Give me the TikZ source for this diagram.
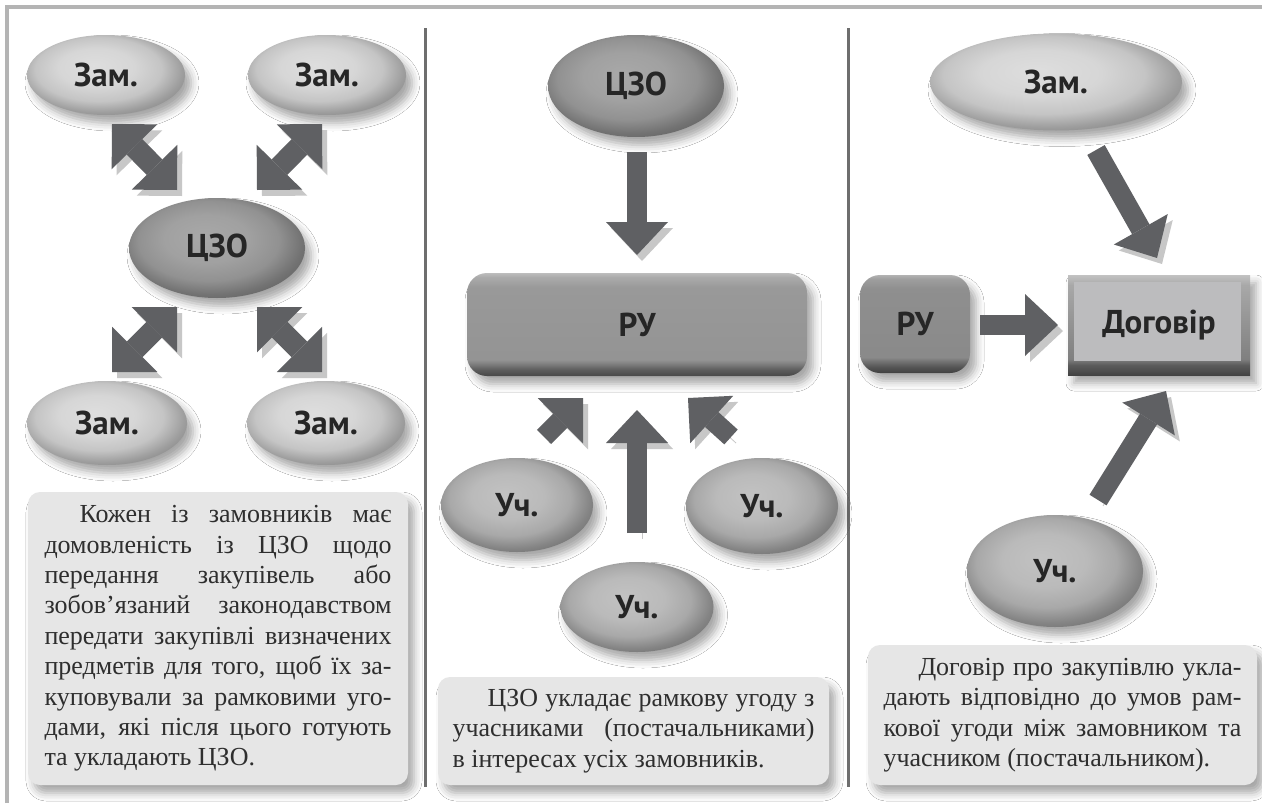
\documentclass[tikz,border=0pt]{standalone}
\usepackage{fontspec}
\setmainfont{Liberation Serif}
\newfontfamily\lblfont{PT Sans}
\usetikzlibrary{shapes.geometric,arrows.meta,shadows.blur}
\definecolor{arrowc}{HTML}{5F6063}
\definecolor{framec}{HTML}{B4B4B4}
\definecolor{divc}{HTML}{6E6E6E}
\definecolor{boxc}{HTML}{E6E6E6}
\definecolor{bodytext}{HTML}{2E2E2E}
\definecolor{labeltext}{HTML}{262626}
\definecolor{dogc}{HTML}{BCBCBE}
\pgfdeclareradialshading{zamsh}{\pgfpoint{-4bp}{6bp}}{gray(0bp)=(0.87);gray(12bp)=(0.84);gray(20bp)=(0.77);gray(26bp)=(0.62);gray(31bp)=(0.52);gray(50bp)=(0.5)}
\pgfdeclareradialshading{czosh}{\pgfpoint{-4bp}{6bp}}{gray(0bp)=(0.66);gray(12bp)=(0.63);gray(20bp)=(0.57);gray(26bp)=(0.45);gray(31bp)=(0.38);gray(50bp)=(0.36)}
\pgfdeclareradialshading{uchsh}{\pgfpoint{-4bp}{6bp}}{gray(0bp)=(0.76);gray(12bp)=(0.73);gray(20bp)=(0.66);gray(26bp)=(0.52);gray(31bp)=(0.43);gray(50bp)=(0.4)}
\pgfdeclareverticalshading{rush}{100bp}{gray(0bp)=(0.28);gray(25bp)=(0.28);gray(28bp)=(0.36);gray(31bp)=(0.5);gray(33bp)=(0.58);gray(68bp)=(0.6);gray(73bp)=(0.67);gray(75bp)=(0.74);gray(100bp)=(0.74)}
\pgfdeclareverticalshading{rushb}{100bp}{gray(0bp)=(0.25);gray(25bp)=(0.25);gray(28bp)=(0.33);gray(31bp)=(0.45);gray(33bp)=(0.54);gray(68bp)=(0.56);gray(73bp)=(0.62);gray(75bp)=(0.7);gray(100bp)=(0.7)}
\pgfdeclareverticalshading{dogsh}{100bp}{gray(0bp)=(0.26);gray(25bp)=(0.26);gray(30bp)=(0.36);gray(33bp)=(0.5);gray(70bp)=(0.66);gray(75bp)=(0.76);gray(100bp)=(0.76)}
\begin{document}
\begin{tikzpicture}[x=0.5pt,y=-0.5pt,
  shadowed/.style={blur shadow={shadow xshift=3pt,shadow yshift=-4pt,shadow blur radius=4pt,shadow opacity=35}},
  lbl/.style={font=\lblfont\bfseries\fontsize{16.5}{19}\selectfont,text=labeltext,inner sep=0pt},
  zam/.style={ellipse,lbl,shade,shading=zamsh,shadowed},
  czo/.style={ellipse,lbl,shade,shading=czosh,shadowed},
  uch/.style={ellipse,lbl,shade,shading=uchsh,shadowed},
  rubox/.style={rectangle,rounded corners=10pt,lbl,shade,shading=rush,shadowed},
  rusmall/.style={rectangle,rounded corners=10pt,lbl,shade,shading=rushb,shadowed},
  dogbox/.style={rectangle,lbl,shade,shading=dogsh,shadowed,
    path picture={\fill[dogc] ([xshift=3pt,yshift=-3.5pt]path picture bounding box.north west) rectangle ([xshift=-4.5pt,yshift=7pt]path picture bounding box.south east);}},
  txtbox/.style={rectangle,rounded corners=6pt,fill=boxc,shadowed,align=justify,
    font=\fontsize{13}{15.2}\selectfont,text=bodytext,inner ysep=0pt},
  ashadow/.style={preaction={draw=black!22,transform canvas={shift={(2.5pt,-3pt)}}}},
  dblarrow/.style={ashadow,draw=arrowc,line width=11pt,
    {Triangle[length=16pt,width=32pt,line width=0pt]}-{Triangle[length=16pt,width=32pt,line width=0pt]}},
  blkarrow/.style={ashadow,draw=arrowc,line width=10pt,
    -{Triangle[length=16.5pt,width=31pt,line width=0pt]}},
  smallarrow/.style={ashadow,draw=arrowc,line width=10pt,
    -{Triangle[length=16pt,width=32pt,line width=0pt]}}
]
\useasboundingbox (0,0) rectangle (1262,803);
\fill[white] (0,0) rectangle (1262,803);
% frame and dividers
\draw[framec,line width=2pt] (7,803) -- (7,7) -- (1262,7);
\draw[divc,line width=1.5pt] (425,28) -- (425,787);
\draw[divc,line width=1.5pt] (848,28) -- (848,787);

% ---------- panel 1 ----------
\node[zam,minimum width=79pt,minimum height=40pt] (z1) at (106,75) {Зам.};
\node[zam,minimum width=79pt,minimum height=40pt] (z2) at (327,75) {Зам.};
\node[czo,minimum width=88pt,minimum height=50pt] (c1) at (217,248) {ЦЗО};
\node[zam,minimum width=80pt,minimum height=42pt] (z3) at (107,423) {Зам.};
\node[zam,minimum width=79pt,minimum height=42pt] (z4) at (326,423) {Зам.};
\coordinate (a1s) at (112,124); \coordinate (a1e) at (177,190);
\coordinate (a2s) at (322,124); \coordinate (a2e) at (257,190);
\coordinate (a3s) at (177,307); \coordinate (a3e) at (112,372);
\coordinate (a4s) at (257,307); \coordinate (a4e) at (322,372);
\draw[dblarrow] (a1s) -- (a1e);
\draw[dblarrow] (a2s) -- (a2e);
\draw[dblarrow] (a3s) -- (a3e);
\draw[dblarrow] (a4s) -- (a4e);
\node[txtbox,text width=173.5pt,inner xsep=8.25pt,minimum height=146.5pt] (t1) at (218,638.5)
 {\hspace*{17.5pt}Кожен із замовників має\linebreak домовленість із ЦЗО щодо\linebreak передання закупівель або\linebreak зобов’язаний законодавством\linebreak передати закупівлі визначених\linebreak предметів для того, щоб їх за-\linebreak куповували за рамковими уго-\linebreak дами, які після цього готують\linebreak та укладають ЦЗО.};

% ---------- panel 2 ----------
\node[czo,minimum width=88pt,minimum height=51pt] (c2) at (636,86) {ЦЗО};
\node[rubox,minimum width=170pt,minimum height=51.5pt] (ru1) at (637,324.5) {РУ};
\node[uch,minimum width=76pt,minimum height=47pt] (u1) at (517,505) {Уч.};
\node[uch,minimum width=76pt,minimum height=48pt] (u2) at (762,506) {Уч.};
\node[uch,minimum width=76.5pt,minimum height=45pt] (u3) at (637,607) {Уч.};
\coordinate (b1s) at (637,152); \coordinate (b1e) at (637,255);
\coordinate (b2s) at (637,533); \coordinate (b2e) at (637,410);
\coordinate (b3s) at (544,437); \coordinate (b3e) at (583,398);
\coordinate (b4s) at (731,437); \coordinate (b4e) at (688,398);
\draw[blkarrow] (b1s) -- (b1e);
\draw[blkarrow] (b2s) -- (b2e);
\draw[smallarrow] (b3s) -- (b3e);
\draw[smallarrow] (b4s) -- (b4e);
\node[txtbox,text width=181pt,inner xsep=7.25pt,minimum height=54pt] (t2) at (633.5,731)
 {\hspace*{17.5pt}ЦЗО укладає рамкову угоду з\linebreak учасниками (постачальниками)\linebreak в інтересах усіх замовників.};

% ---------- panel 3 ----------
\node[zam,minimum width=126pt,minimum height=48.5pt] (z5) at (1056,82) {Зам.};
\node[rusmall,minimum width=55pt,minimum height=49pt] (ru2) at (915,324) {РУ};
\node[dogbox,minimum width=91pt,minimum height=50pt] (dog) at (1159,325) {Договір};
\node[uch,minimum width=88pt,minimum height=56pt] (u4) at (1055,571) {Уч.};
\coordinate (c1s) at (1096,150); \coordinate (c1e) at (1157,258);
\coordinate (c2s) at (980,325); \coordinate (c2e) at (1058,325);
\coordinate (c3s) at (1098,500); \coordinate (c3e) at (1166,391);
\draw[blkarrow] (c1s) -- (c1e);
\draw[blkarrow] (c2s) -- (c2e);
\draw[blkarrow] (c3s) -- (c3e);
\node[txtbox,text width=179pt,inner xsep=7.75pt,minimum height=70pt] (t3) at (1062.5,715)
 {\hspace*{17.5pt}Договір про закупівлю укла-\linebreak дають відповідно до умов рам-\linebreak кової угоди між замовником та\linebreak учасником (постачальником).};
\end{tikzpicture}
\end{document}
